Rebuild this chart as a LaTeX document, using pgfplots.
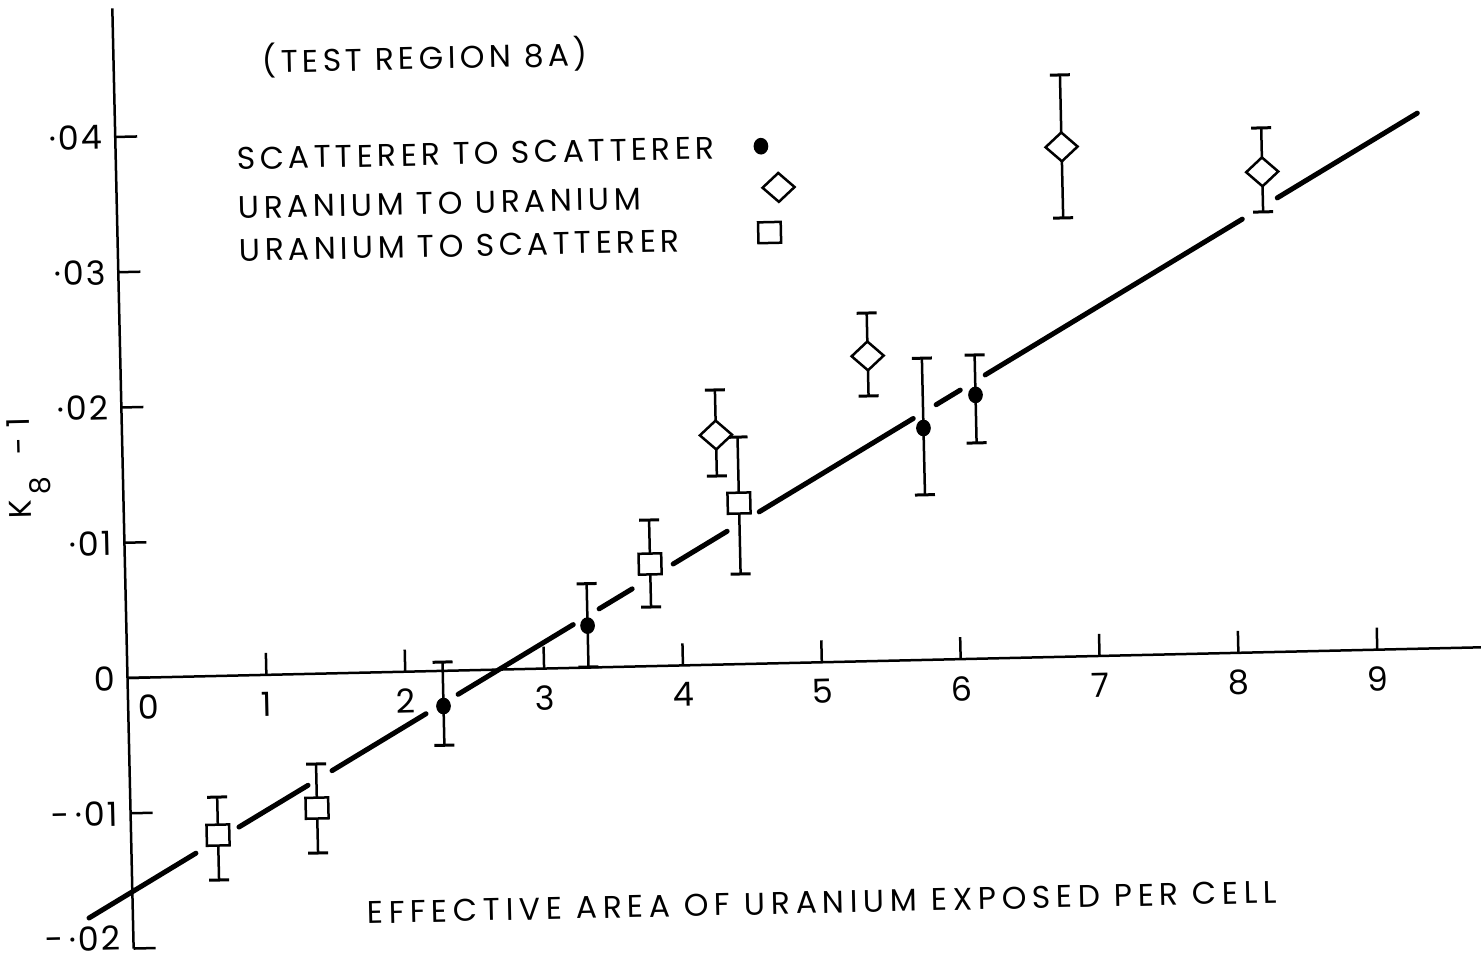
\documentclass[border=0pt]{standalone}
\usepackage{fontspec}
\setmainfont{Poppins}
\newfontfamily\legfont[LetterSpace=14]{Poppins}
\newfontfamily\labfont[LetterSpace=18]{Poppins}
\newfontfamily\tickfont[LetterSpace=6]{Poppins}
\usepackage{pgfplots}
\usepackage{pgfplotstable}
\pgfplotsset{compat=1.18}

\pgfplotstableread{
x y ep em
2.27 -0.0026 0.00325 0.0029
3.32 0.0031 0.0031 0.00306
5.77 0.01714 0.00516 0.00494
6.15 0.0195 0.00295 0.00355
}\scat
\pgfplotstableread{
x y ep em
4.275 0.01697 0.00333 0.00303
5.38 0.02256 0.00317 0.00296
6.81 0.03768 0.00532 0.00525
8.25 0.0355 0.00325 0.00296
}\uran
\pgfplotstableread{
x y ep em
0.626 -0.01176 0.00281 0.00332
1.343 -0.00993 0.00326 0.00332
3.78 0.00755 0.00325 0.00318
4.43 0.0119 0.00488 0.00524
}\usca

\pgfplotsset{
  eb/.style={error bars/.cd, y dir=both, y explicit,
    error bar style={line width=0.75pt,black},
    error mark options={rotate=90,mark size=3pt,line width=0.9pt,black}},
  seg/.style={forget plot, black, line width=1.5pt, line cap=round, no marks},
}

\begin{document}
\begin{tikzpicture}[x=0.3pt,y=0.3pt]
\begin{scope}[transform canvas={rotate around={1.3:(127.5,281)}}]
\begin{axis}[
  scale only axis, width=408.37pt, height=282.1pt,
  at={(38.25pt,3.12pt)}, anchor=south west,
  xmin=0, xmax=9.8, ymin=-0.02, ymax=0.0495,
  axis x line*=middle, axis y line*=left,
  axis line style={line width=0.75pt, black},
  clip=false,
  xtick={1,...,9}, xticklabels={1,2,3,4,5,6,7,8,9},
  extra x ticks={0.148}, extra x tick labels={0},
  extra x tick style={major tick length=0pt},
  ytick={-0.01,0,0.01,0.02,0.03,0.04},
  yticklabels={-\,·01,0\hspace{2.4pt},·01,·02,·03,·04},
  extra y ticks={-0.02}, extra y tick labels={-\,·02},
  extra y tick style={yticklabel style={yshift=3.3pt}},
  scaled y ticks=false, scaled x ticks=false,
  hide obscured y ticks=false, hide obscured x ticks=false,
  tick align=inside,
  major tick length=6.6pt,
  tick style={line width=0.75pt, black},
  xticklabel style={anchor=north, inner sep=0pt, yshift=-5pt, font=\fontsize{10}{12}\selectfont},
  yticklabel style={anchor=east, inner sep=0pt, xshift=-3.6pt, font=\tickfont\fontsize{10}{12}\selectfont},
  legend plot pos=right,
  legend cell align=left,
  legend style={at={(axis cs:0.876,0.0390)}, anchor=north west, draw=none, fill=none,
    inner sep=0pt, outer sep=0pt, row sep=4.65pt, column sep=11.9pt,
    font=\legfont\fontsize{9.4}{11}\selectfont,
    nodes={inner sep=0pt, text height=6.6pt, text depth=0pt}},
]
\addplot[only marks, black, mark=*, mark size=2pt, mark options={yscale=1.15},
  legend image post style={yshift=0.2pt}, eb]
  table[x=x,y=y,y error plus=ep,y error minus=em]{\scat};
\addlegendentry{SCATTERER TO SCATTERER}
\addplot[only marks, black, mark=square*, mark size=3.4pt,
  mark options={fill=white, draw=black, line width=0.75pt, yscale=0.9, rotate=45},
  legend image post style={xshift=5pt, yshift=2.4pt}, eb]
  table[x=x,y=y,y error plus=ep,y error minus=em]{\uran};
\addlegendentry{URANIUM TO URANIUM}
\addplot[only marks, black, mark=square*, mark size=3.4pt,
  mark options={fill=white, draw=black, line width=0.75pt, yscale=0.92},
  legend image post style={xshift=2pt, yshift=1.8pt}, eb]
  table[x=x,y=y,y error plus=ep,y error minus=em]{\usca};
\addlegendentry{URANIUM TO SCATTERER}

\addplot[seg] coordinates {(-0.316,-0.01767) (0.464,-0.01306)};
\addplot[seg] coordinates {(0.778,-0.01120) (1.282,-0.00823)};
\addplot[seg] coordinates {(1.457,-0.00719) (2.143,-0.00314)};
\addplot[seg] coordinates {(2.377,-0.00176) (3.217,0.00320)};
\addplot[seg] coordinates {(3.406,0.00432) (3.647,0.00574)};
\addplot[seg] coordinates {(3.946,0.00751) (4.340,0.00984)};
\addplot[seg] coordinates {(4.574,0.01122) (5.698,0.01786)};
\addplot[seg] coordinates {(5.865,0.01884) (6.041,0.01988)};
\addplot[seg] coordinates {(6.223,0.02096) (8.099,0.03204)};
\addplot[seg] coordinates {(8.354,0.03355) (9.376,0.03958)};
\end{axis}
\node[font=\legfont\fontsize{9.4}{11}\selectfont, anchor=base west, inner sep=0pt] at (275.7,882.8) {(TEST REGION 8A)};
\node[font=\labfont\fontsize{9.4}{11}\selectfont, inner sep=0pt] at (816.7,41) {EFFECTIVE AREA OF URANIUM EXPOSED PER CELL};
\node[rotate=90, font=\fontsize{9.4}{11}\selectfont, inner sep=0pt] at (33.9,493) {K\kern1.5pt\raisebox{-5.6pt}{\fontsize{8.5}{9}\selectfont 8}\kern6.6pt-\kern3pt1};
\end{scope}
\pgfresetboundingbox
\path[use as bounding box] (0,0) rectangle (1481,959);
\end{tikzpicture}
\end{document}
